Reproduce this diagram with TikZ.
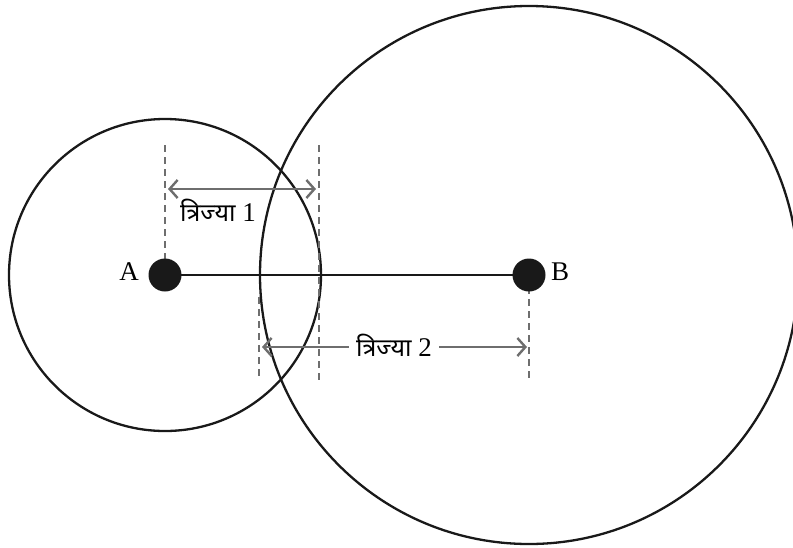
\documentclass[tikz,border=0pt]{standalone}
\usepackage{fontspec}
\setmainfont{Liberation Serif}
\newfontfamily\devfont[Script=Devanagari]{Noto Sans}
\usetikzlibrary{arrows.meta}
\definecolor{guidegray}{HTML}{6E6E6E}
\begin{document}
\begin{tikzpicture}[x=1pt,y=-1pt,
  circ/.style={draw=black!90, line width=2.3pt},
  guide/.style={draw=guidegray, line width=2pt, dash pattern=on 7pt off 5pt},
  dim/.style={draw=guidegray, line width=2.4pt,
    {Straight Barb[length=8pt,width=18pt]}-{Straight Barb[length=8pt,width=18pt]}},
  dot/.style={circle, fill=black!90, minimum size=33pt, inner sep=0pt},
  lbl/.style={font=\fontsize{27}{30}\selectfont, inner sep=1pt},
  dev/.style={}
]
\useasboundingbox (0,0) rectangle (793,547);
\coordinate (cA) at (165,275);
\coordinate (cB) at (529,275);
% circles
\draw[circ] (cA) circle[radius=156pt];
\draw[circ] (cB) circle[radius=269pt];
% guide lines
\coordinate (g1t) at (165,145);
\coordinate (g2t) at (319,145);
\coordinate (g2b) at (319,380);
\coordinate (g3t) at (259,297);
\coordinate (g3b) at (259,380);
\coordinate (g4b) at (529,380);
\draw[guide] (g1t) -- (cA);
\draw[guide] (g2t) -- (g2b);
\draw[guide] (g3t) -- (g3b);
\draw[guide] (cB) -- (g4b);
% segment AB
\draw[line width=2.6pt, black!90] (cA) -- (cB);
% dots
\node[dot] (A) at (cA) {};
\node[dot] (B) at (cB) {};
\node[lbl, anchor=east] (Al) at (140,272) {A};
\node[lbl, anchor=west] (Bl) at (550,272) {B};
% radius 1
\coordinate (r1a) at (168,189);
\coordinate (r1b) at (316,189);
\draw[dim] (r1a) -- (r1b);
\node[lbl] (t1) at (218,210) {{\devfont\fontsize{25}{28}\selectfont त्रिज्या} 1};
% radius 2
\coordinate (r2a) at (262,347);
\coordinate (r2b) at (527,347);
\draw[dim] (r2a) -- (r2b);
\node[lbl, fill=white, inner xsep=7pt] (t2) at (394,345) {{\devfont\fontsize{25}{28}\selectfont त्रिज्या} 2};
\end{tikzpicture}
\end{document}
